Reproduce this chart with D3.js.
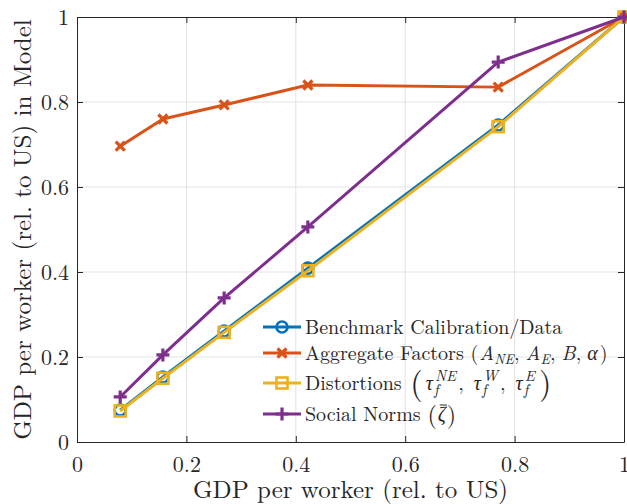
<!DOCTYPE html>
<html>
<head>
<meta charset="utf-8">
<script src="https://cdn.jsdelivr.net/npm/d3@7"></script>
<style>
	body { margin: 0; background: #fff; }
</style>
</head>
<body>
<div id="chart"></div>
<script>

	///////////////////////////////////////////////////////////////////////////
	//////////////////////////////// The data /////////////////////////////////
	///////////////////////////////////////////////////////////////////////////

	var xVals = [0.079, 0.157, 0.269, 0.422, 0.770, 1.0];
	var benchmark = [0.075, 0.153, 0.261, 0.409, 0.746, 1.0];
	var aggregate = [0.696, 0.760, 0.793, 0.840, 0.835, 1.0];
	var distortions = [0.073, 0.150, 0.258, 0.403, 0.742, 1.0];
	var socialNorms = [0.106, 0.205, 0.339, 0.506, 0.894, 1.0];

	var tickVals = [0, 0.2, 0.4, 0.6, 0.8, 1];
	var tickLabels = ["0", "0.2", "0.4", "0.6", "0.8", "1"];

	var series = [
		{ name: "benchmark", values: benchmark, color: "#0072BD", marker: "circle" },
		{ name: "aggregate", values: aggregate, color: "#D95319", marker: "x" },
		{ name: "distortions", values: distortions, color: "#EDB120", marker: "square" },
		{ name: "social", values: socialNorms, color: "#7E2F8E", marker: "plus" }
	];

	var font = "'Latin Modern Roman', 'Liberation Serif', serif";
	var ink = "#262626";

	///////////////////////////////////////////////////////////////////////////
	//////////////////// Set up and initiate svg containers ///////////////////
	///////////////////////////////////////////////////////////////////////////

	var margin = { top: 17, right: 3, bottom: 62, left: 77 };
	var width = 627 - margin.left - margin.right;
	var height = 504 - margin.top - margin.bottom;

	var svgRoot = d3.select("#chart").append("svg")
		.attr("width", 627)
		.attr("height", 504);

	var svg = svgRoot.append("g")
		.attr("transform", "translate(" + margin.left + "," + margin.top + ")");

	var x = d3.scaleLinear().domain([0, 1]).range([0, width]);
	var y = d3.scaleLinear().domain([0, 1]).range([height, 0]);

	//Grid
	svg.append("g").selectAll("line")
		.data(tickVals.slice(1, -1))
		.enter().append("line")
		.attr("x1", function(d) { return x(d); }).attr("x2", function(d) { return x(d); })
		.attr("y1", 0).attr("y2", height)
		.style("stroke", "#e3e3e3").style("stroke-width", 1);

	svg.append("g").selectAll("line")
		.data(tickVals.slice(1, -1))
		.enter().append("line")
		.attr("y1", function(d) { return y(d); }).attr("y2", function(d) { return y(d); })
		.attr("x1", 0).attr("x2", width)
		.style("stroke", "#e3e3e3").style("stroke-width", 1);

	//Axes, ticks pointing inward like matlab
	var tickFmt = function(d, i) { return tickLabels[i]; };
	var axes = [
		{ axis: d3.axisBottom(x).tickValues(tickVals).tickFormat(tickFmt).tickSizeInner(-6).tickSizeOuter(0).tickPadding(14), t: "translate(0," + height + ")" },
		{ axis: d3.axisLeft(y).tickValues(tickVals).tickFormat(tickFmt).tickSizeInner(-6).tickSizeOuter(0).tickPadding(8), t: "translate(0,0)" },
		{ axis: d3.axisTop(x).tickValues(tickVals).tickFormat("").tickSizeInner(-6).tickSizeOuter(0), t: "translate(0,0)" },
		{ axis: d3.axisRight(y).tickValues(tickVals).tickFormat("").tickSizeInner(-6).tickSizeOuter(0), t: "translate(" + width + ",0)" }
	];
	axes.forEach(function(a) {
		var g = svg.append("g").attr("transform", a.t).call(a.axis);
		g.select(".domain").style("stroke", ink).style("stroke-width", 1);
		g.selectAll(".tick line").style("stroke", ink).style("stroke-width", 1);
		g.selectAll(".tick text")
			.style("font-family", font)
			.style("font-size", "22px")
			.style("fill", ink);
	});

	///////////////////////////////////////////////////////////////////////////
	///////////////////////////////// Lines ///////////////////////////////////
	///////////////////////////////////////////////////////////////////////////

	var line = d3.line()
		.x(function(d, i) { return x(xVals[i]); })
		.y(function(d) { return y(d); });

	function drawMarker(sel, type, color) {
		if (type === "circle") {
			sel.append("circle").attr("r", 5.5)
				.style("fill", "none").style("stroke", color).style("stroke-width", 2.6);
		} else if (type === "square") {
			sel.append("rect").attr("x", -5.5).attr("y", -5.5).attr("width", 11).attr("height", 11)
				.style("fill", "none").style("stroke", color).style("stroke-width", 2.6);
		} else if (type === "x") {
			sel.append("path").attr("d", "M-4.5,-4.5L4.5,4.5M-4.5,4.5L4.5,-4.5")
				.style("stroke", color).style("stroke-width", 3.2);
		} else if (type === "plus") {
			sel.append("path").attr("d", "M-6.5,0L6.5,0M0,-6.5L0,6.5")
				.style("stroke", color).style("stroke-width", 3.2);
		}
	}

	series.forEach(function(s) {
		svg.append("path")
			.datum(s.values)
			.attr("d", line)
			.style("fill", "none")
			.style("stroke", s.color)
			.style("stroke-width", 3)
			.style("stroke-linejoin", "round");

		svg.append("g").selectAll("g")
			.data(s.values)
			.enter().append("g")
			.attr("transform", function(d, i) { return "translate(" + x(xVals[i]) + "," + y(d) + ")"; })
			.each(function() { drawMarker(d3.select(this), s.marker, s.color); });
	});

	///////////////////////////////////////////////////////////////////////////
	///////////////////////////////// Labels //////////////////////////////////
	///////////////////////////////////////////////////////////////////////////

	svgRoot.append("text")
		.attr("x", margin.left + width / 2)
		.attr("y", 498)
		.attr("text-anchor", "middle")
		.style("font-family", font)
		.style("font-size", "25px")
		.style("fill", ink)
		.text("GDP per worker (rel. to US)");

	svgRoot.append("text")
		.attr("transform", "translate(31," + (margin.top + height / 2) + ") rotate(-90)")
		.attr("text-anchor", "middle")
		.style("font-family", font)
		.style("font-size", "25px")
		.style("fill", ink)
		.text("GDP per worker (rel. to US) in Model");

	///////////////////////////////////////////////////////////////////////////
	///////////////////////////////// Legend //////////////////////////////////
	///////////////////////////////////////////////////////////////////////////

	var legend = svgRoot.append("g").attr("transform", "translate(263,0)");
	var legendRows = [327, 353, 383, 414];

	series.forEach(function(s, i) {
		var row = legend.append("g").attr("transform", "translate(0," + legendRows[i] + ")");
		row.append("line").attr("x1", 0).attr("x2", 38)
			.style("stroke", s.color).style("stroke-width", 3);
		var m = row.append("g").attr("transform", "translate(19,0)");
		drawMarker(m, s.marker, s.color);
	});

	//Little helper to lay out pieces of "math" text left to right
	function mathRow(i) {
		var base = legendRows[i] + 7;
		var cx = 305 - 263;
		var api = {
			put: function(str, opts) {
				opts = opts || {};
				var t = legend.append("text")
					.attr("x", cx + (opts.dx || 0))
					.attr("y", base + (opts.dy || 0))
					.style("white-space", "pre")
					.style("font-family", font)
					.style("font-size", (opts.size || 20) + "px")
					.style("font-style", opts.italic ? "italic" : "normal")
					.style("fill", ink)
					.text(str);
				var w = t.node().getComputedTextLength();
				var x0 = cx + (opts.dx || 0);
				if (!opts.stay) cx = x0 + w;
				return { node: t, w: w, x: x0 };
			},
			stack: function(sub, sup) {
				var a = api.put(sub, { size: 15, italic: true, dy: 5, dx: 1, stay: true });
				var b = api.put(sup, { size: 15, italic: true, dy: -9, dx: 2, stay: true });
				cx += Math.max(a.w + 1, b.w + 2) + 2;
			},
			comma: function(gap) {
				api.put(",");
				cx += gap;
			}
		};
		return api;
	}

	var r0 = mathRow(0);
	r0.put("Benchmark Calibration/Data");

	var r1 = mathRow(1);
	r1.put("Aggregate Factors ");
	r1.put("(");
	r1.put("A", { italic: true, dx: 1 });
	r1.put("NE", { italic: true, size: 14, dy: 4 });
	r1.comma(6);
	r1.put("A", { italic: true });
	r1.put("E", { italic: true, size: 14, dy: 4 });
	r1.comma(6);
	r1.put("B", { italic: true });
	r1.comma(6);
	r1.put("α", { italic: true });
	r1.put(")", { dx: 2 });

	var r2 = mathRow(2);
	var tauSups = ["NE", "W", "E"];
	r2.put("Distortions ");
	r2.put("(", { size: 32, dy: 4, dx: 2 });
	tauSups.forEach(function(sup, k) {
		r2.put("τ", { italic: true, dx: k === 0 ? 3 : 0 });
		r2.stack("f", sup);
		if (k < tauSups.length - 1) r2.comma(10);
	});
	r2.put(")", { size: 32, dy: 4, dx: 2 });

	var r3 = mathRow(3);
	r3.put("Social Norms ");
	r3.put("(", { size: 24, dy: 2 });
	var z = r3.put("ζ", { italic: true, dx: 1 });
	r3.put(")", { size: 24, dy: 2, dx: 1 });
	legend.append("line")
		.attr("x1", z.x + 2).attr("x2", z.x + z.w + 1)
		.attr("y1", legendRows[3] - 9).attr("y2", legendRows[3] - 9)
		.style("stroke", ink).style("stroke-width", 1);

</script>
</body>
</html>
